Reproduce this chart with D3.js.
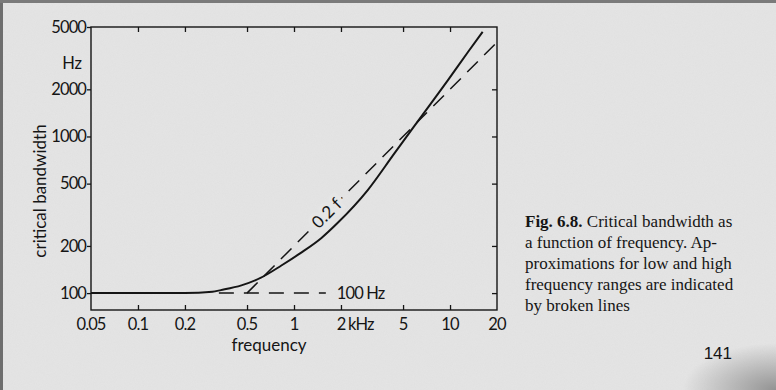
<!DOCTYPE html>
<html>
<head>
<meta charset="utf-8">
<script src="https://cdn.jsdelivr.net/npm/d3@7"></script>
<style>
  html, body { margin: 0; padding: 0; background: #e5e5e5; }
  svg { display: block; }
</style>
</head>
<body>
<svg id="chart" width="776" height="390"></svg>
<script>
// ---- data ----
const freqKHz      = [0.05, 0.1, 0.2, 0.3, 0.34, 0.46, 0.61, 0.83, 1.1, 1.5, 1.9, 2.97, 4.4, 6.4, 9.7, 13, 16.2];
const bandwidthHz  = [100, 100, 100, 102, 104.5, 112, 125, 150, 180, 225, 280, 455, 780, 1300, 2290, 3450, 4660];
const lowApproxF   = [0.33, 1.6];      // kHz, 100 Hz dashed line
const lowApproxBW  = [100, 100];
const highApproxF  = [0.5, 19.7];      // kHz, 0.2 f dashed line
const highApproxBW = [100, 3940];
const xTicks       = [0.05, 0.1, 0.2, 0.5, 1, 2, 5, 10, 20];
const xTickLabels  = ["0.05", "0.1", "0.2", "0.5", "1", "2", "5", "10", "20"];
const yTicks       = [100, 200, 500, 1000, 2000, 5000];
const yTickLabels  = ["100", "200", "500", "1000", "2000", "5000"];
const captionLines = [
  ["Fig. 6.8.", " Critical bandwidth as"],
  ["", "a function of frequency. Ap-"],
  ["", "proximations for low and high"],
  ["", "frequency ranges are indicated"],
  ["", "by broken lines"]
];

const svg = d3.select("#chart");
const W = 776, H = 390;
const paper = "#e5e5e5";

// paper background with slight grain
const defs = svg.append("defs");
const f = defs.append("filter").attr("id", "grain");
f.append("feTurbulence").attr("type", "fractalNoise").attr("baseFrequency", 0.9).attr("numOctaves", 2).attr("seed", 3);
f.append("feColorMatrix").attr("type", "matrix")
  .attr("values", "0 0 0 0 0.5  0 0 0 0 0.5  0 0 0 0 0.5  0 0 0 0.18 0");
const rg = defs.append("radialGradient").attr("id", "curl")
  .attr("cx", 1).attr("cy", 1).attr("r", 0.12).attr("gradientUnits", "objectBoundingBox");
rg.append("stop").attr("offset", "0").attr("stop-color", "#8a8a8a").attr("stop-opacity", 0.9);
rg.append("stop").attr("offset", "1").attr("stop-color", "#8a8a8a").attr("stop-opacity", 0);

svg.append("rect").attr("width", W).attr("height", H).attr("fill", paper);
svg.append("rect").attr("width", W).attr("height", H).attr("filter", "url(#grain)").attr("opacity", 0.6);
svg.append("rect").attr("width", W).attr("height", H).attr("fill", "url(#curl)");
// scan edges
svg.append("rect").attr("x", 0).attr("y", 0).attr("width", 3).attr("height", H).attr("fill", "#6e6e6e");
svg.append("rect").attr("x", 0).attr("y", 0).attr("width", W).attr("height", 3).attr("fill", "#7a7a7a");

// ---- scales ----
const L = 91, R = 497, T = 27, B = 310;
const x = d3.scaleLog().domain([0.05, 20]).range([L, R]);
const y = d3.scaleLog().domain([78, 5000]).range([B, T]);

const font = "Lato, 'Open Sans', sans-serif";
const ink = "#151515";
const fs = 16.5, ls = -0.9;

// frame
svg.append("rect").attr("x", L).attr("y", T).attr("width", R - L).attr("height", B - T)
  .attr("fill", "none").attr("stroke", ink).attr("stroke-width", 1.4);

// axes
const innerX = xTicks.slice(1, -1);
svg.append("g").attr("transform", `translate(0,${B})`)
  .call(d3.axisTop(x).tickValues(innerX).tickSize(5).tickFormat(""))
  .call(g => { g.select(".domain").remove(); g.selectAll("line").attr("stroke", ink).attr("stroke-width", 1.3); });
svg.append("g").attr("transform", `translate(0,${T})`)
  .call(d3.axisBottom(x).tickValues(innerX).tickSize(5).tickFormat(""))
  .call(g => { g.select(".domain").remove(); g.selectAll("line").attr("stroke", ink).attr("stroke-width", 1.3); });
svg.append("g").attr("transform", `translate(${L},0)`)
  .call(d3.axisLeft(y).tickValues(yTicks).tickSize(4).tickPadding(1)
        .tickFormat((d, i) => yTickLabels[i]))
  .call(g => {
    g.select(".domain").remove();
    g.selectAll("line").attr("stroke", ink).attr("stroke-width", 1.3);
    g.selectAll("text").attr("font-family", font).attr("font-size", fs).attr("fill", ink).attr("letter-spacing", ls);
  });
svg.append("g").attr("transform", `translate(${R},0)`)
  .call(d3.axisLeft(y).tickValues(yTicks.slice(0, -1)).tickSize(5).tickFormat(""))
  .call(g => { g.select(".domain").remove(); g.selectAll("line").attr("stroke", ink).attr("stroke-width", 1.3); });

// x tick labels
const xl = svg.append("g").attr("font-family", font).attr("font-size", fs).attr("fill", ink).attr("letter-spacing", ls);
xTicks.forEach((t, i) => {
  xl.append("text").attr("x", x(t)).attr("y", B + 20).attr("text-anchor", "middle").text(xTickLabels[i]);
});
xl.append("text").attr("x", x(2) + 7).attr("y", B + 20).attr("text-anchor", "start").text("kHz");

// axis titles
svg.append("text").attr("x", 82).attr("y", 69).attr("text-anchor", "end")
  .attr("font-family", font).attr("font-size", fs).attr("fill", ink).text("Hz");
svg.append("text").attr("x", 269).attr("y", 351).attr("text-anchor", "middle")
  .attr("font-family", font).attr("font-size", 17).attr("fill", ink).text("frequency");
svg.append("text").attr("transform", "translate(46,191) rotate(-90)").attr("text-anchor", "middle")
  .attr("font-family", font).attr("font-size", 17).attr("fill", ink).text("critical bandwidth");

// ---- curves ----
const line = d3.line().x(d => x(d[0])).y(d => y(d[1]));
const mainData = freqKHz.map((fq, i) => [fq, bandwidthHz[i]]);
svg.append("path").datum(mainData)
  .attr("d", line.curve(d3.curveMonotoneX))
  .attr("fill", "none").attr("stroke", ink).attr("stroke-width", 2);

const straight = d3.line().x(d => x(d[0])).y(d => y(d[1]));
svg.append("path").datum(lowApproxF.map((fq, i) => [fq, lowApproxBW[i]]))
  .attr("d", straight).attr("fill", "none").attr("stroke", ink).attr("stroke-width", 1.5)
  .attr("stroke-dasharray", "15 10");
svg.append("path").datum(highApproxF.map((fq, i) => [fq, highApproxBW[i]]))
  .attr("d", straight).attr("fill", "none").attr("stroke", ink).attr("stroke-width", 1.5)
  .attr("stroke-dasharray", "15 9");

// labels on lines
svg.append("text").attr("x", x(lowApproxF[1]) + 11).attr("y", y(100) + 6)
  .attr("font-family", font).attr("font-size", fs).attr("fill", ink).attr("letter-spacing", ls).text("100 Hz");
const lf = 1.62;
svg.append("text")
  .attr("transform", `translate(${x(lf)},${y(0.2 * lf * 1000)}) rotate(-45)`)
  .attr("text-anchor", "middle").attr("dy", "0.35em")
  .attr("font-family", font).attr("font-size", 17).attr("fill", ink)
  .attr("stroke", paper).attr("stroke-width", 8).attr("paint-order", "stroke")
  .text("0.2 f");

// caption
const cap = svg.append("g").attr("font-family", "'Liberation Serif', 'Times New Roman', serif")
  .attr("font-size", 17).attr("fill", ink);
captionLines.forEach((ln, i) => {
  const t = cap.append("text").attr("x", 525).attr("y", 227 + i * 21);
  if (ln[0]) t.append("tspan").attr("font-weight", "bold").text(ln[0]);
  t.append("tspan").text(ln[1]);
});
svg.append("text").attr("x", 732).attr("y", 359).attr("text-anchor", "end")
  .attr("font-family", "'Liberation Sans', Arial, sans-serif").attr("font-size", 17).attr("fill", ink).text("141");
</script>
</body>
</html>
